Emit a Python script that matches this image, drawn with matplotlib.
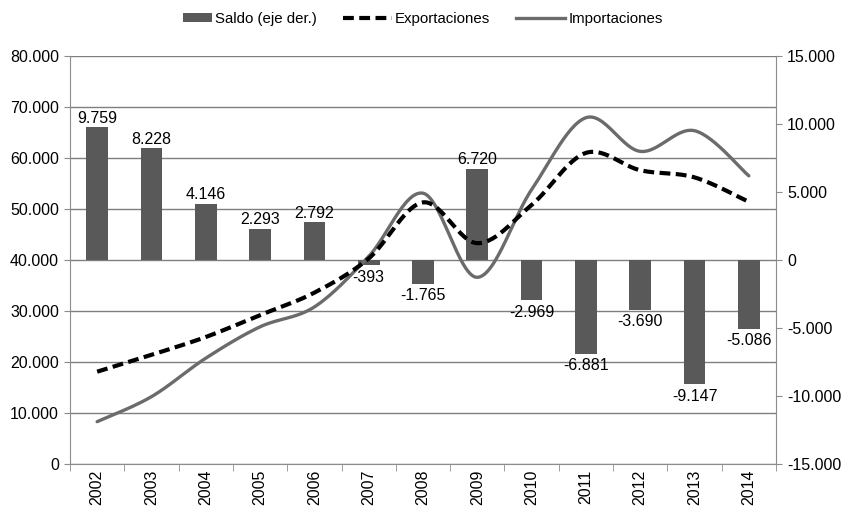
import numpy as np
import matplotlib
matplotlib.use('Agg')
import matplotlib.pyplot as plt
from matplotlib.patches import Patch, Rectangle
from matplotlib.lines import Line2D
from matplotlib.legend_handler import HandlerPatch
from matplotlib.ticker import FuncFormatter, MultipleLocator

plt.rcParams['font.family'] = ['Liberation Sans', 'DejaVu Sans']

# Datos
years = ['2002', '2003', '2004', '2005', '2006', '2007', '2008',
         '2009', '2010', '2011', '2012', '2013', '2014']
exportaciones = [18100, 21400, 24900, 29200, 33600, 40300, 51300,
                 43300, 50800, 61000, 57600, 56200, 51400]
importaciones = [8300, 13200, 20750, 26900, 30800, 40700, 53100,
                 36600, 53800, 67900, 61300, 65350, 56500]
saldo = [9759, 8228, 4146, 2293, 2792, -393, -1765,
         6720, -2969, -6881, -3690, -9147, -5086]


def miles(v, pos=None):
    return '{:,.0f}'.format(v).replace(',', '.')


def suavizar(x, y, n=30):
    # curva suavizada tipo Excel (Catmull-Rom)
    x = np.asarray(x, float)
    y = np.asarray(y, float)
    px = np.concatenate([[x[0]], x, [x[-1]]])
    py = np.concatenate([[y[0]], y, [y[-1]]])
    xs, ys = [], []
    t = np.linspace(0, 1, n)
    for i in range(1, len(px) - 2):
        p0 = np.array([px[i], py[i]])
        p3 = np.array([px[i + 1], py[i + 1]])
        c1 = p0 + (np.array([px[i + 1], py[i + 1]]) - np.array([px[i - 1], py[i - 1]])) / 6
        c2 = p3 - (np.array([px[i + 2], py[i + 2]]) - np.array([px[i], py[i]])) / 6
        b = ((1 - t) ** 3)[:, None] * p0 + (3 * (1 - t) ** 2 * t)[:, None] * c1 \
            + (3 * (1 - t) * t ** 2)[:, None] * c2 + (t ** 3)[:, None] * p3
        xs.extend(b[:, 0])
        ys.extend(b[:, 1])
    return np.array(xs), np.array(ys)


def rect_corto(legend, orig_handle, xdescent, ydescent, width, height, fontsize):
    # rectangulo mas corto que las lineas, pegado al texto
    w = width * 0.6
    return Rectangle((width - w - xdescent, -ydescent), w, height)


x = np.arange(len(years))
gris_eje = '#8c8c8c'
fs = 11.5

fig = plt.figure(figsize=(8.46, 5.09), dpi=100)
pos = [70 / 846, 45 / 509, 706 / 846, 408 / 509]

ax = fig.add_axes(pos)
ax.set_xlim(-0.5, len(years) - 0.5)
ax.set_ylim(0, 80000)
ax.yaxis.set_major_locator(MultipleLocator(10000))
ax.yaxis.set_major_formatter(FuncFormatter(miles))
ax.grid(axis='y', color='#7f7f7f', linewidth=1.0)
ax.set_axisbelow(True)
ax.set_xticks(x)
ax.set_xticklabels(years, rotation=90)
ax.set_xticks(np.arange(-0.5, len(years)), minor=True)
ax.tick_params(axis='x', which='major', length=0, pad=4, labelsize=fs)
ax.tick_params(axis='x', which='minor', length=5, color=gris_eje)
ax.tick_params(axis='y', length=4, color=gris_eje, labelsize=fs, pad=4)
for s in ['top', 'right']:
    ax.spines[s].set_visible(False)
for s in ['left', 'bottom']:
    ax.spines[s].set_color(gris_eje)

# barras en el eje derecho
ax2 = ax.twinx()
ax2.set_ylim(-15000, 15000)
ax2.yaxis.set_major_locator(MultipleLocator(5000))
ax2.yaxis.set_major_formatter(FuncFormatter(miles))
ax2.tick_params(axis='y', length=4, color=gris_eje, labelsize=fs, pad=4)
for s in ['top', 'left', 'bottom']:
    ax2.spines[s].set_visible(False)
ax2.spines['right'].set_color(gris_eje)
bars = ax2.bar(x, saldo, width=0.4, color='#595959', zorder=2)
for b, v in zip(bars, saldo):
    if v >= 0:
        ax2.annotate(miles(v), (b.get_x() + b.get_width() / 2, v),
                     xytext=(0, 1), textcoords='offset points',
                     ha='center', va='bottom', fontsize=fs)
    else:
        ax2.annotate(miles(v), (b.get_x() + b.get_width() / 2, v),
                     xytext=(0, -3), textcoords='offset points',
                     ha='center', va='top', fontsize=fs)

# lineas encima de las barras
ax3 = fig.add_axes(pos, sharex=ax, sharey=ax)
ax3.patch.set_visible(False)
ax3.axis('off')
xe, ye = suavizar(x, exportaciones)
xi, yi = suavizar(x, importaciones)
ax3.plot(xi, yi, color='#6b6b6b', linewidth=2.4, solid_capstyle='round')
ax3.plot(xe, ye, color='black', linewidth=3.0, dashes=(2.6, 1.3))

barra_ley = Patch(facecolor='#595959')
handles = [barra_ley,
           Line2D([], [], color='black', linewidth=3.0, dashes=(2.6, 1.3)),
           Line2D([], [], color='#6b6b6b', linewidth=2.4)]
fig.legend(handles, ['Saldo (eje der.)', 'Exportaciones', 'Importaciones'],
           loc='center', bbox_to_anchor=(0.488, 0.963), ncol=3, frameon=False,
           fontsize=10.8, handlelength=3.3, handleheight=0.5,
           columnspacing=1.7, handletextpad=0.2,
           handler_map={barra_ley: HandlerPatch(patch_func=rect_corto)})

fig.savefig('out.png', dpi=100)
